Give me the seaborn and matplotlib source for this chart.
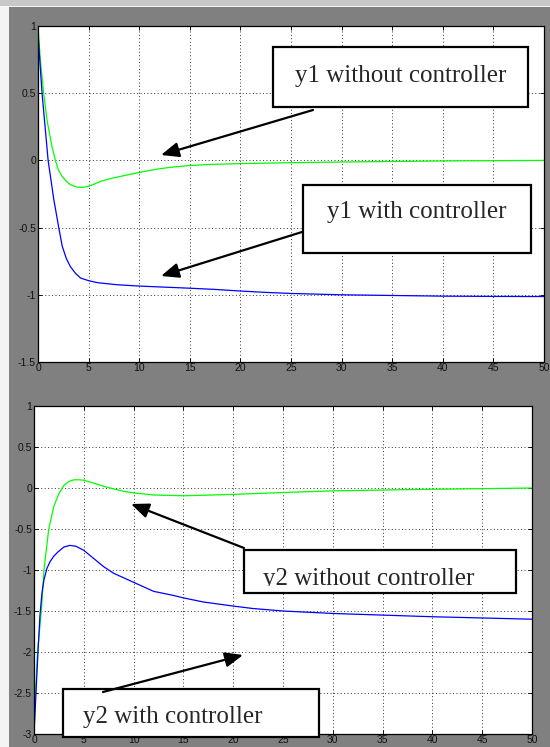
import numpy as np
import pandas as pd
import matplotlib
matplotlib.use("Agg")
import matplotlib.pyplot as plt
from matplotlib.patches import Rectangle, FancyArrowPatch
import seaborn as sns

# ---------------- data ----------------
# top panel: y1
t_y1_open = [0, 0.23, 0.56, 0.89, 1.39, 1.72, 2.0, 2.4, 2.8, 3.2, 3.6, 4.0, 4.5, 4.9,
             5.5, 6.2, 7.2, 8.2, 9.2, 10.2, 11.5, 13, 15, 17, 20, 25, 30, 35, 40, 45, 50]
y1_open = [1.0, 0.75, 0.5, 0.3, 0.1, 0.0, -0.07, -0.12, -0.155, -0.18, -0.193, -0.2,
           -0.2, -0.195, -0.178, -0.155, -0.135, -0.118, -0.102, -0.087, -0.068, -0.052,
           -0.038, -0.03, -0.024, -0.017, -0.012, -0.008, -0.004, -0.002, 0.0]
t_y1_ctrl = [0, 0.17, 0.4, 0.73, 1.0, 1.56, 2.05, 2.4, 2.8, 3.2, 3.7, 4.2, 5, 5.9, 7.8,
             10, 12.5, 15, 17.5, 20, 22.5, 25, 30, 35, 40, 45, 50]
y1_ctrl = [0.95, 0.75, 0.5, 0.225, 0.0, -0.29, -0.5, -0.64, -0.73, -0.79, -0.84, -0.875,
           -0.895, -0.91, -0.925, -0.935, -0.943, -0.951, -0.96, -0.972, -0.982, -0.99,
           -1.0, -1.005, -1.01, -1.012, -1.013]

# bottom panel: y2
t_y2_open = [0, 0.15, 0.35, 0.74, 1.0, 1.48, 2.0, 2.5, 3.0, 3.5, 4.0, 4.5, 5, 6, 7, 8, 9,
             10, 12, 15, 18, 20, 25, 30, 35, 40, 45, 50]
y2_open = [-3.0, -2.5, -2.0, -1.5, -1.0, -0.5, -0.22, -0.07, 0.03, 0.08, 0.1, 0.1, 0.095,
           0.06, 0.02, -0.01, -0.04, -0.06, -0.085, -0.095, -0.085, -0.078, -0.055,
           -0.035, -0.025, -0.015, -0.008, 0.0]
t_y2_ctrl = [0, 0.2, 0.4, 0.6, 0.8, 1.0, 1.3, 1.6, 2.0, 2.4, 3.0, 3.6, 4.2, 5, 6, 7, 8,
             10, 12, 14, 15, 17, 20, 22, 25, 30, 35, 40, 45, 50]
y2_ctrl = [-3.0, -2.5, -2.0, -1.55, -1.28, -1.12, -0.98, -0.9, -0.83, -0.78, -0.72, -0.70,
           -0.71, -0.76, -0.86, -0.96, -1.04, -1.15, -1.26, -1.31, -1.34, -1.39, -1.44,
           -1.47, -1.5, -1.53, -1.55, -1.57, -1.585, -1.6]

x_ticks = [0, 5, 10, 15, 20, 25, 30, 35, 40, 45, 50]
x_ticklabels = ["0", "5", "10", "15", "20", "25", "30", "35", "40", "45", "50"]
y1_ticks = [-1.5, -1, -0.5, 0, 0.5, 1]
y1_ticklabels = ["-1.5", "-1", "-0.5", "0", "0.5", "1"]
y2_ticks = [-3, -2.5, -2, -1.5, -1, -0.5, 0, 0.5, 1]
y2_ticklabels = ["-3", "-2.5", "-2", "-1.5", "-1", "-0.5", "0", "0.5", "1"]

labels = ["y1 without controller", "y1 with controller",
          "y2 without controller", "y2 with controller"]

# ---------------- style ----------------
sns.set_style("ticks")
plt.rcParams["font.family"] = ["Liberation Sans", "DejaVu Sans"]

W, H = 550, 747
fig = plt.figure(figsize=(W / 100, H / 100), dpi=100, facecolor="#808080")


def fx(x):
    return x / W


def fy(y):
    return 1 - y / H


# background strips
fig.add_artist(Rectangle((0, 0), fx(9), 1, transform=fig.transFigure,
                         facecolor="#f4f4f4", edgecolor="none", zorder=-5))
fig.add_artist(Rectangle((0, fy(6)), 1, 6 / H, transform=fig.transFigure,
                         facecolor="#c8c8c8", edgecolor="none", zorder=-4))
fig.add_artist(Rectangle((0, fy(7)), 1, 1 / H, transform=fig.transFigure,
                         facecolor="#f4f4f4", edgecolor="none", zorder=-4))


def make_axes(box):
    x0, y0, x1, y1 = box
    return fig.add_axes([fx(x0), fy(y1), fx(x1 - x0), (y1 - y0) / H])


ax1 = make_axes((38, 26, 544, 362))
ax2 = make_axes((34, 406, 532, 734))

GREEN = "#00ff00"
BLUE = "#0000ff"

df1 = pd.DataFrame({"t": t_y1_open, "y": y1_open})
df2 = pd.DataFrame({"t": t_y1_ctrl, "y": y1_ctrl})
df3 = pd.DataFrame({"t": t_y2_open, "y": y2_open})
df4 = pd.DataFrame({"t": t_y2_ctrl, "y": y2_ctrl})

sns.lineplot(data=df1, x="t", y="y", ax=ax1, color=GREEN, lw=0.9, estimator=None)
sns.lineplot(data=df2, x="t", y="y", ax=ax1, color=BLUE, lw=0.9, estimator=None)
sns.lineplot(data=df3, x="t", y="y", ax=ax2, color=GREEN, lw=0.9, estimator=None)
sns.lineplot(data=df4, x="t", y="y", ax=ax2, color=BLUE, lw=0.9, estimator=None)

for ax, yt, ytl, ylim in [(ax1, y1_ticks, y1_ticklabels, (-1.5, 1)),
                          (ax2, y2_ticks, y2_ticklabels, (-3, 1))]:
    ax.set_facecolor("white")
    ax.set_xlim(0, 50)
    ax.set_ylim(*ylim)
    ax.set_xticks(x_ticks)
    ax.set_xticklabels(x_ticklabels)
    ax.set_yticks(yt)
    ax.set_yticklabels(ytl)
    ax.set_xlabel("")
    ax.set_ylabel("")
    ax.grid(True, linestyle=(0, (1, 2.5)), color="black", lw=0.7, alpha=0.8)
    ax.tick_params(direction="in", length=3, width=0.7, top=True, right=True,
                   labelsize=7.5, colors="#111111", pad=1.5)
    ax.tick_params(axis="x", pad=1.0)
    for s in ax.spines.values():
        s.set_visible(True)
        s.set_color("black")
        s.set_linewidth(0.9)

# ---------------- annotation boxes and arrows ----------------
SERIF = ["Liberation Serif", "DejaVu Serif"]


def box(x0, y0, x1, y1):
    r = Rectangle((fx(x0), fy(y1)), fx(x1 - x0), (y1 - y0) / H,
                  transform=fig.transFigure, facecolor="white",
                  edgecolor="black", lw=1.6, zorder=5)
    fig.add_artist(r)
    return r


def arrow(xt, yt, xh, yh):
    a = FancyArrowPatch((fx(xt), fy(yt)), (fx(xh), fy(yh)),
                        transform=fig.transFigure,
                        arrowstyle="-|>,head_length=0.6,head_width=0.25",
                        mutation_scale=18, color="black", lw=1.6, zorder=6,
                        shrinkA=0, shrinkB=0)
    fig.add_artist(a)


box(273, 47, 528, 107)
fig.text(fx(295), fy(82), labels[0], family=SERIF, fontsize=18,
         ha="left", va="baseline", zorder=7)
arrow(313, 110, 161, 155)

box(303, 185, 531, 253)
fig.text(fx(327), fy(218), labels[1], family=SERIF, fontsize=18,
         ha="left", va="baseline", zorder=7)
arrow(302, 232, 161, 276)

arrow(244, 548, 131, 504)
box(244, 550, 516, 593)
t3 = fig.text(fx(263), fy(585), labels[2], family=SERIF, fontsize=18,
              ha="left", va="baseline", zorder=7)
clip = Rectangle((fx(244), fy(586)), fx(272), (586 - 550) / H,
                 transform=fig.transFigure, facecolor="none", edgecolor="none")
t3.set_clip_path(clip)

box(63, 689, 319, 737)
fig.text(fx(83), fy(723), labels[3], family=SERIF, fontsize=18,
         ha="left", va="baseline", zorder=7)
arrow(103, 692, 243, 655)

fig.savefig("out.png", dpi=100, facecolor=fig.get_facecolor())
